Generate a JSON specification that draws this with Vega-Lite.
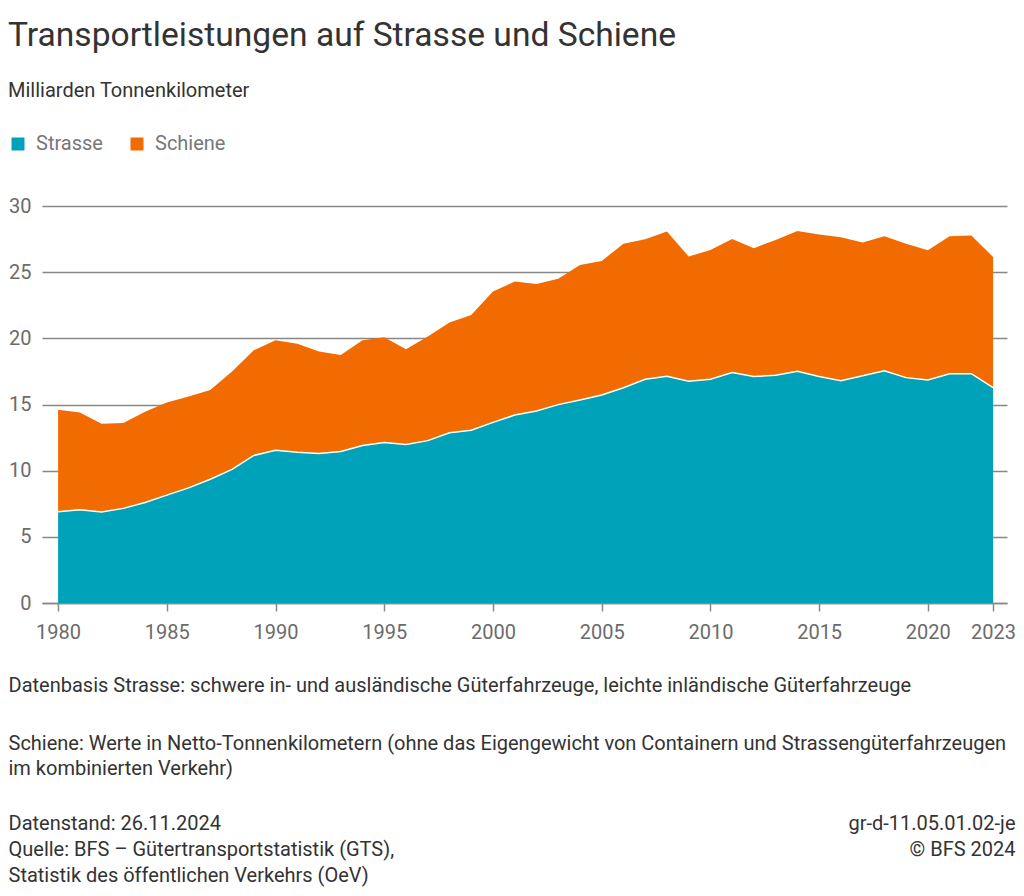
{
  "$schema": "https://vega.github.io/schema/vega-lite/v6.json",
  "width": 965,
  "height": 397,
  "autosize": {"type": "none"},
  "padding": {"left": 42, "top": 206, "right": 17, "bottom": 293},
  "background": "white",
  "config": {"font": "Roboto", "view": {"stroke": null}},
  "title": {
    "text": "Transportleistungen auf Strasse und Schiene",
    "subtitle": "Milliarden Tonnenkilometer",
    "anchor": "start",
    "frame": "group",
    "dx": -34,
    "fontSize": 33.6,
    "fontWeight": "normal",
    "color": "#333333",
    "subtitleFontSize": 20,
    "subtitleColor": "#333333",
    "subtitlePadding": 28,
    "offset": 33
  },
  "data": {
    "values": [
      {"Jahr": 1980, "Strasse": 6.9, "Schiene": 7.7},
      {"Jahr": 1981, "Strasse": 7.05, "Schiene": 7.35},
      {"Jahr": 1982, "Strasse": 6.88, "Schiene": 6.67},
      {"Jahr": 1983, "Strasse": 7.15, "Schiene": 6.45},
      {"Jahr": 1984, "Strasse": 7.6, "Schiene": 6.85},
      {"Jahr": 1985, "Strasse": 8.15, "Schiene": 7.0},
      {"Jahr": 1986, "Strasse": 8.7, "Schiene": 6.9},
      {"Jahr": 1987, "Strasse": 9.35, "Schiene": 6.75},
      {"Jahr": 1988, "Strasse": 10.1, "Schiene": 7.4},
      {"Jahr": 1989, "Strasse": 11.15, "Schiene": 7.95},
      {"Jahr": 1990, "Strasse": 11.55, "Schiene": 8.3},
      {"Jahr": 1991, "Strasse": 11.4, "Schiene": 8.2},
      {"Jahr": 1992, "Strasse": 11.3, "Schiene": 7.7},
      {"Jahr": 1993, "Strasse": 11.45, "Schiene": 7.3},
      {"Jahr": 1994, "Strasse": 11.9, "Schiene": 7.95},
      {"Jahr": 1995, "Strasse": 12.12, "Schiene": 7.96},
      {"Jahr": 1996, "Strasse": 11.97, "Schiene": 7.2},
      {"Jahr": 1997, "Strasse": 12.27, "Schiene": 7.86},
      {"Jahr": 1998, "Strasse": 12.87, "Schiene": 8.32},
      {"Jahr": 1999, "Strasse": 13.05, "Schiene": 8.72},
      {"Jahr": 2000, "Strasse": 13.65, "Schiene": 9.88},
      {"Jahr": 2001, "Strasse": 14.2, "Schiene": 10.09},
      {"Jahr": 2002, "Strasse": 14.51, "Schiene": 9.6},
      {"Jahr": 2003, "Strasse": 14.99, "Schiene": 9.52},
      {"Jahr": 2004, "Strasse": 15.34, "Schiene": 10.21},
      {"Jahr": 2005, "Strasse": 15.72, "Schiene": 10.13},
      {"Jahr": 2006, "Strasse": 16.27, "Schiene": 10.87},
      {"Jahr": 2007, "Strasse": 16.91, "Schiene": 10.58},
      {"Jahr": 2008, "Strasse": 17.13, "Schiene": 10.94},
      {"Jahr": 2009, "Strasse": 16.75, "Schiene": 9.43},
      {"Jahr": 2010, "Strasse": 16.91, "Schiene": 9.77},
      {"Jahr": 2011, "Strasse": 17.41, "Schiene": 10.1},
      {"Jahr": 2012, "Strasse": 17.11, "Schiene": 9.7},
      {"Jahr": 2013, "Strasse": 17.21, "Schiene": 10.23},
      {"Jahr": 2014, "Strasse": 17.51, "Schiene": 10.61},
      {"Jahr": 2015, "Strasse": 17.11, "Schiene": 10.73},
      {"Jahr": 2016, "Strasse": 16.8, "Schiene": 10.84},
      {"Jahr": 2017, "Strasse": 17.18, "Schiene": 10.06},
      {"Jahr": 2018, "Strasse": 17.54, "Schiene": 10.18},
      {"Jahr": 2019, "Strasse": 17.03, "Schiene": 10.11},
      {"Jahr": 2020, "Strasse": 16.86, "Schiene": 9.8},
      {"Jahr": 2021, "Strasse": 17.33, "Schiene": 10.39},
      {"Jahr": 2022, "Strasse": 17.33, "Schiene": 10.44},
      {"Jahr": 2023, "Strasse": 16.27, "Schiene": 9.88}
    ]
  },
  "transform": [{"fold": ["Strasse", "Schiene"], "as": ["Verkehrsträger", "Wert"]}],
  "resolve": {"axis": {"x": "independent", "y": "independent"}},
  "layer": [
    {
      "mark": {"type": "area", "interpolate": "linear", "opacity": 1},
      "encoding": {
        "x": {
          "field": "Jahr",
          "type": "quantitative",
          "scale": {"domain": [1979.26, 2023.64], "nice": false, "zero": false},
          "axis": {
            "orient": "bottom",
            "values": [1980, 1985, 1990, 1995, 2000, 2005, 2010, 2015, 2020, 2023],
            "format": "d",
            "grid": false,
            "labelFontSize": 20,
            "labelColor": "#6b6b6b",
            "labelPadding": 11,
            "labelFlush": false,
            "labelOverlap": false,
            "tickSize": 8,
            "tickColor": "#888888",
            "tickWidth": 1.5,
            "domainColor": "#888888",
            "domainWidth": 1.5,
            "title": "Datenbasis Strasse: schwere in- und ausländische Güterfahrzeuge, leichte inländische Güterfahrzeuge",
            "titleAnchor": "start",
            "titleAlign": "left",
            "titleBaseline": "alphabetic",
            "titleAngle": 0,
            "titleX": -34,
            "titleY": 88,
            "titleFontSize": 20,
            "titleFontWeight": "normal",
            "titleColor": "#333333"
          }
        },
        "y": {
          "field": "Wert",
          "type": "quantitative",
          "scale": {"domain": [0, 30], "nice": false},
          "axis": {
            "orient": "left",
            "values": [0, 5, 10, 15, 20, 25, 30],
            "domain": false,
            "ticks": false,
            "labelPadding": 11,
            "labelFontSize": 20,
            "labelColor": "#6b6b6b",
            "gridColor": "#888888",
            "gridWidth": 1.3,
            "title": ["gr-d-11.05.01.02-je", "© BFS 2024"],
            "titleAngle": 0,
            "titleAlign": "right",
            "titleBaseline": "alphabetic",
            "titleX": 973,
            "titleY": 623,
            "titleFontSize": 20,
            "titleFontWeight": "normal",
            "titleColor": "#333333",
            "titleLineHeight": 26
          }
        },
        "color": {
          "field": "Verkehrsträger",
          "type": "nominal",
          "scale": {"domain": ["Strasse", "Schiene"], "range": ["#00a2b9", "#f26b00"]},
          "legend": {
            "orient": "none",
            "legendX": -34,
            "legendY": -72,
            "direction": "horizontal",
            "title": null,
            "symbolType": "square",
            "symbolSize": 169,
            "symbolStrokeWidth": 0,
            "symbolOpacity": 1,
            "labelFontSize": 20,
            "labelColor": "#777777",
            "labelOffset": 8,
            "columnPadding": 24,
            "padding": 0
          }
        },
        "order": {"field": "Verkehrsträger", "sort": "descending"}
      }
    },
    {
      "transform": [{"filter": "datum['Verkehrsträger'] === 'Strasse'"}],
      "mark": {"type": "line", "color": "white", "strokeWidth": 1.5, "interpolate": "linear"},
      "encoding": {
        "x": {
          "field": "Jahr",
          "type": "quantitative",
          "axis": {
            "orient": "top",
            "domain": false,
            "ticks": false,
            "labels": false,
            "grid": false,
            "title": [
              "Schiene: Werte in Netto-Tonnenkilometern (ohne das Eigengewicht von Containern und Strassengüterfahrzeugen",
              "im kombinierten Verkehr)"
            ],
            "titleAnchor": "start",
            "titleAlign": "left",
            "titleBaseline": "alphabetic",
            "titleAngle": 0,
            "titleX": -34,
            "titleY": 543,
            "titleFontSize": 20,
            "titleFontWeight": "normal",
            "titleColor": "#333333",
            "titleLineHeight": 25.5
          }
        },
        "y": {
          "field": "Wert",
          "type": "quantitative",
          "axis": {
            "orient": "right",
            "domain": false,
            "ticks": false,
            "labels": false,
            "grid": false,
            "title": [
              "Datenstand: 26.11.2024",
              "Quelle: BFS – Gütertransportstatistik (GTS),",
              "Statistik des öffentlichen Verkehrs (OeV)"
            ],
            "titleAngle": 0,
            "titleAlign": "left",
            "titleBaseline": "alphabetic",
            "titleX": -999,
            "titleY": 623,
            "titleFontSize": 20,
            "titleFontWeight": "normal",
            "titleColor": "#333333",
            "titleLineHeight": 26
          }
        }
      }
    }
  ]
}
